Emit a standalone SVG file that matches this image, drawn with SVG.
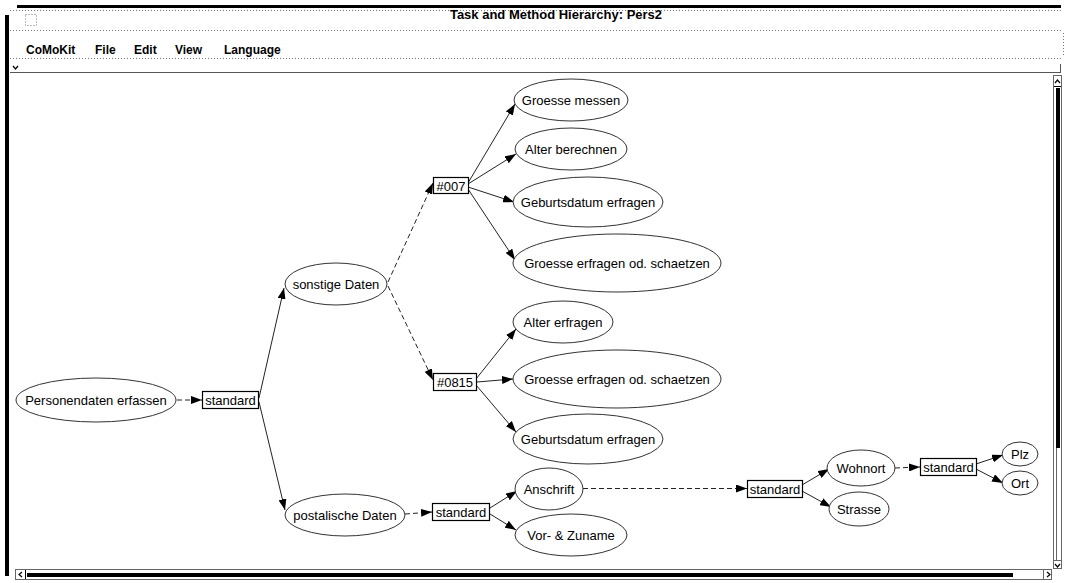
<svg xmlns="http://www.w3.org/2000/svg" width="1065" height="583" viewBox="0 0 1065 583">
  <style>
    .title { font-family: "Liberation Sans", Arial, sans-serif; font-size: 13px; font-weight: bold; fill: #000; }
    .menu { font-family: "Liberation Sans", Arial, sans-serif; font-size: 12px; font-weight: bold; fill: #000; }
    .lbl { font-family: "Liberation Sans", Arial, sans-serif; font-size: 13px; fill: #000; text-anchor: middle; }
    .ell { fill: #fff; stroke: #333; stroke-width: 1; }
    .box { fill: #fff; stroke: #000; stroke-width: 1.2; }
    .edge { fill: none; stroke: #222; stroke-width: 1; marker-end: url(#arrow); }
    .dash { stroke-dasharray: 5 3; }
    .dots { fill: none; stroke: #777; stroke-width: 1; stroke-dasharray: 1 2; }
  </style>
  <defs>
    <marker id="arrow" markerUnits="userSpaceOnUse" markerWidth="12" markerHeight="8" refX="11" refY="4" orient="auto">
      <path d="M0,0 L11,4 L0,8 z" fill="#000"/>
    </marker>
  </defs>

  <rect width="1065" height="583" fill="#fff"/>

  <!-- window frame -->
  <g id="frame">
    <rect x="17" y="5" width="1044" height="3" fill="#000"/>
    <rect x="5" y="15" width="4" height="561" fill="#000"/>
    <line class="dots" x1="10" y1="10.5" x2="1063" y2="10.5"/>
    <line class="dots" x1="10" y1="30.5" x2="1063" y2="30.5"/>
    <line class="dots" x1="10" y1="58.5" x2="1063" y2="58.5"/>
    <line class="dots" x1="1063.5" y1="33" x2="1063.5" y2="57"/>
    <rect class="dots" x="25.5" y="14.5" width="11" height="11"/>
    <text class="title" x="556" y="19" text-anchor="middle">Task and Method Hierarchy: Pers2</text>
    <text class="menu" x="26" y="54">CoMoKit</text>
    <text class="menu" x="95" y="54">File</text>
    <text class="menu" x="134" y="54">Edit</text>
    <text class="menu" x="175" y="54">View</text>
    <text class="menu" x="224" y="54">Language</text>
    <path d="M13,66 L15.5,69 L18,66" fill="none" stroke="#000" stroke-width="1.2"/>
    <line x1="10" y1="72.5" x2="1061" y2="72.5" stroke="#555" stroke-width="1"/>
    <line x1="1060.5" y1="64" x2="1060.5" y2="73" stroke="#555" stroke-width="1"/>
  </g>

  <!-- scroll bars -->
  <g id="scrollbars">
    <rect x="1053.5" y="75.5" width="8" height="493" fill="#fff" stroke="#666"/>
    <path d="M1055,83 L1057.5,80 L1060,83" fill="none" stroke="#000" stroke-width="1.2"/>
    <line x1="1054" y1="86.5" x2="1061" y2="86.5" stroke="#000"/>
    <rect x="1056" y="88" width="4" height="360" fill="#000"/>
    <line x1="1056.5" y1="448" x2="1056.5" y2="560" stroke="#666"/>
    <path d="M1055,564 L1057.5,567 L1060,564" fill="none" stroke="#000" stroke-width="1.2"/>
    <line x1="1054" y1="560.5" x2="1061" y2="560.5" stroke="#666"/>
    <rect x="15.5" y="569.5" width="1036" height="10" fill="#fff" stroke="#666"/>
    <path d="M22,572 L19,574.5 L22,577" fill="none" stroke="#000" stroke-width="1.2"/>
    <line x1="25.5" y1="570" x2="25.5" y2="579" stroke="#000"/>
    <rect x="27" y="573" width="986" height="4" fill="#000"/>
    <path d="M1047,572 L1050,574.5 L1047,577" fill="none" stroke="#000" stroke-width="1.2"/>
    <line x1="1043.5" y1="570" x2="1043.5" y2="579" stroke="#666"/>
  </g>

  <!-- connectors -->
  <g id="connectors">
    <line class="edge dash" x1="177" y1="400" x2="202" y2="400"/>
    <line class="edge" x1="259" y1="398" x2="284" y2="288"/>
    <line class="edge" x1="259" y1="402" x2="285" y2="510"/>
    <line class="edge dash" x1="388" y1="282" x2="433" y2="183"/>
    <line class="edge dash" x1="388" y1="286" x2="433" y2="380"/>
    <line class="edge" x1="468" y1="183" x2="515" y2="104"/>
    <line class="edge" x1="468" y1="184" x2="516" y2="154"/>
    <line class="edge" x1="468" y1="187" x2="514" y2="202"/>
    <line class="edge" x1="468" y1="189" x2="515" y2="260"/>
    <line class="edge" x1="476" y1="379" x2="516" y2="329"/>
    <line class="edge" x1="477" y1="382" x2="513" y2="379"/>
    <line class="edge" x1="476" y1="385" x2="516" y2="432"/>
    <line class="edge dash" x1="405" y1="514" x2="432" y2="512"/>
    <line class="edge" x1="490" y1="508" x2="517" y2="491"/>
    <line class="edge" x1="490" y1="514" x2="516" y2="530"/>
    <line class="edge dash" x1="583" y1="488.5" x2="747" y2="488.5"/>
    <line class="edge" x1="802" y1="485" x2="829" y2="469"/>
    <line class="edge" x1="802" y1="491" x2="831" y2="507"/>
    <line class="edge dash" x1="895" y1="468" x2="920" y2="467"/>
    <line class="edge" x1="976" y1="464" x2="1003" y2="455"/>
    <line class="edge" x1="976" y1="469" x2="1003" y2="483"/>
  </g>

  <!-- nodes -->
  <g id="n-personendaten"><ellipse class="ell" cx="96" cy="400" rx="80" ry="22"/><text class="lbl" x="96" y="404.5">Personendaten erfassen</text></g>
  <g id="n-standard1"><rect class="box" x="202.5" y="391.5" width="56" height="17"/><text class="lbl" x="230.5" y="404.5">standard</text></g>
  <g id="n-sonstige"><ellipse class="ell" cx="336" cy="284" rx="51" ry="21"/><text class="lbl" x="336" y="288.5">sonstige Daten</text></g>
  <g id="n-postalische"><ellipse class="ell" cx="345" cy="515" rx="60" ry="21"/><text class="lbl" x="345" y="519.5">postalische Daten</text></g>
  <g id="n-007"><rect class="box" x="433.5" y="177.5" width="35" height="16"/><text class="lbl" x="451" y="190.5">#007</text></g>
  <g id="n-0815"><rect class="box" x="433.5" y="373.5" width="43" height="17"/><text class="lbl" x="455" y="386.5">#0815</text></g>
  <g id="n-groesse-messen"><ellipse class="ell" cx="571" cy="100" rx="57" ry="21"/><text class="lbl" x="571" y="104.5">Groesse messen</text></g>
  <g id="n-alter-berechnen"><ellipse class="ell" cx="571" cy="149" rx="56" ry="21"/><text class="lbl" x="571" y="153.5">Alter berechnen</text></g>
  <g id="n-geburtsdatum1"><ellipse class="ell" cx="588" cy="202" rx="75" ry="25"/><text class="lbl" x="588" y="206.5">Geburtsdatum erfragen</text></g>
  <g id="n-groesse-erfragen1"><ellipse class="ell" cx="617" cy="263" rx="104" ry="29"/><text class="lbl" x="617" y="267.5">Groesse erfragen od. schaetzen</text></g>
  <g id="n-alter-erfragen"><ellipse class="ell" cx="563" cy="322" rx="50" ry="21"/><text class="lbl" x="563" y="326.5">Alter erfragen</text></g>
  <g id="n-groesse-erfragen2"><ellipse class="ell" cx="617" cy="379" rx="104" ry="29"/><text class="lbl" x="617" y="383.5">Groesse erfragen od. schaetzen</text></g>
  <g id="n-geburtsdatum2"><ellipse class="ell" cx="588" cy="439" rx="75" ry="25"/><text class="lbl" x="588" y="443.5">Geburtsdatum erfragen</text></g>
  <g id="n-standard2"><rect class="box" x="432.5" y="503.5" width="57" height="17"/><text class="lbl" x="461" y="516.5">standard</text></g>
  <g id="n-anschrift"><ellipse class="ell" cx="549" cy="489" rx="34" ry="21"/><text class="lbl" x="549" y="493.5">Anschrift</text></g>
  <g id="n-vorname"><ellipse class="ell" cx="571" cy="535" rx="56" ry="21"/><text class="lbl" x="571" y="539.5">Vor- &amp; Zuname</text></g>
  <g id="n-standard3"><rect class="box" x="747.5" y="480.5" width="55" height="17"/><text class="lbl" x="775" y="493.5">standard</text></g>
  <g id="n-wohnort"><ellipse class="ell" cx="861" cy="468" rx="34" ry="18"/><text class="lbl" x="861" y="472.5">Wohnort</text></g>
  <g id="n-strasse"><ellipse class="ell" cx="859" cy="509" rx="30" ry="17"/><text class="lbl" x="859" y="513.5">Strasse</text></g>
  <g id="n-standard4"><rect class="box" x="920.5" y="458.5" width="56" height="17"/><text class="lbl" x="948.5" y="471.5">standard</text></g>
  <g id="n-plz"><ellipse class="ell" cx="1020" cy="454" rx="18" ry="12"/><text class="lbl" x="1020" y="458.5">Plz</text></g>
  <g id="n-ort"><ellipse class="ell" cx="1020" cy="483" rx="18" ry="12"/><text class="lbl" x="1020" y="487.5">Ort</text></g>
</svg>
